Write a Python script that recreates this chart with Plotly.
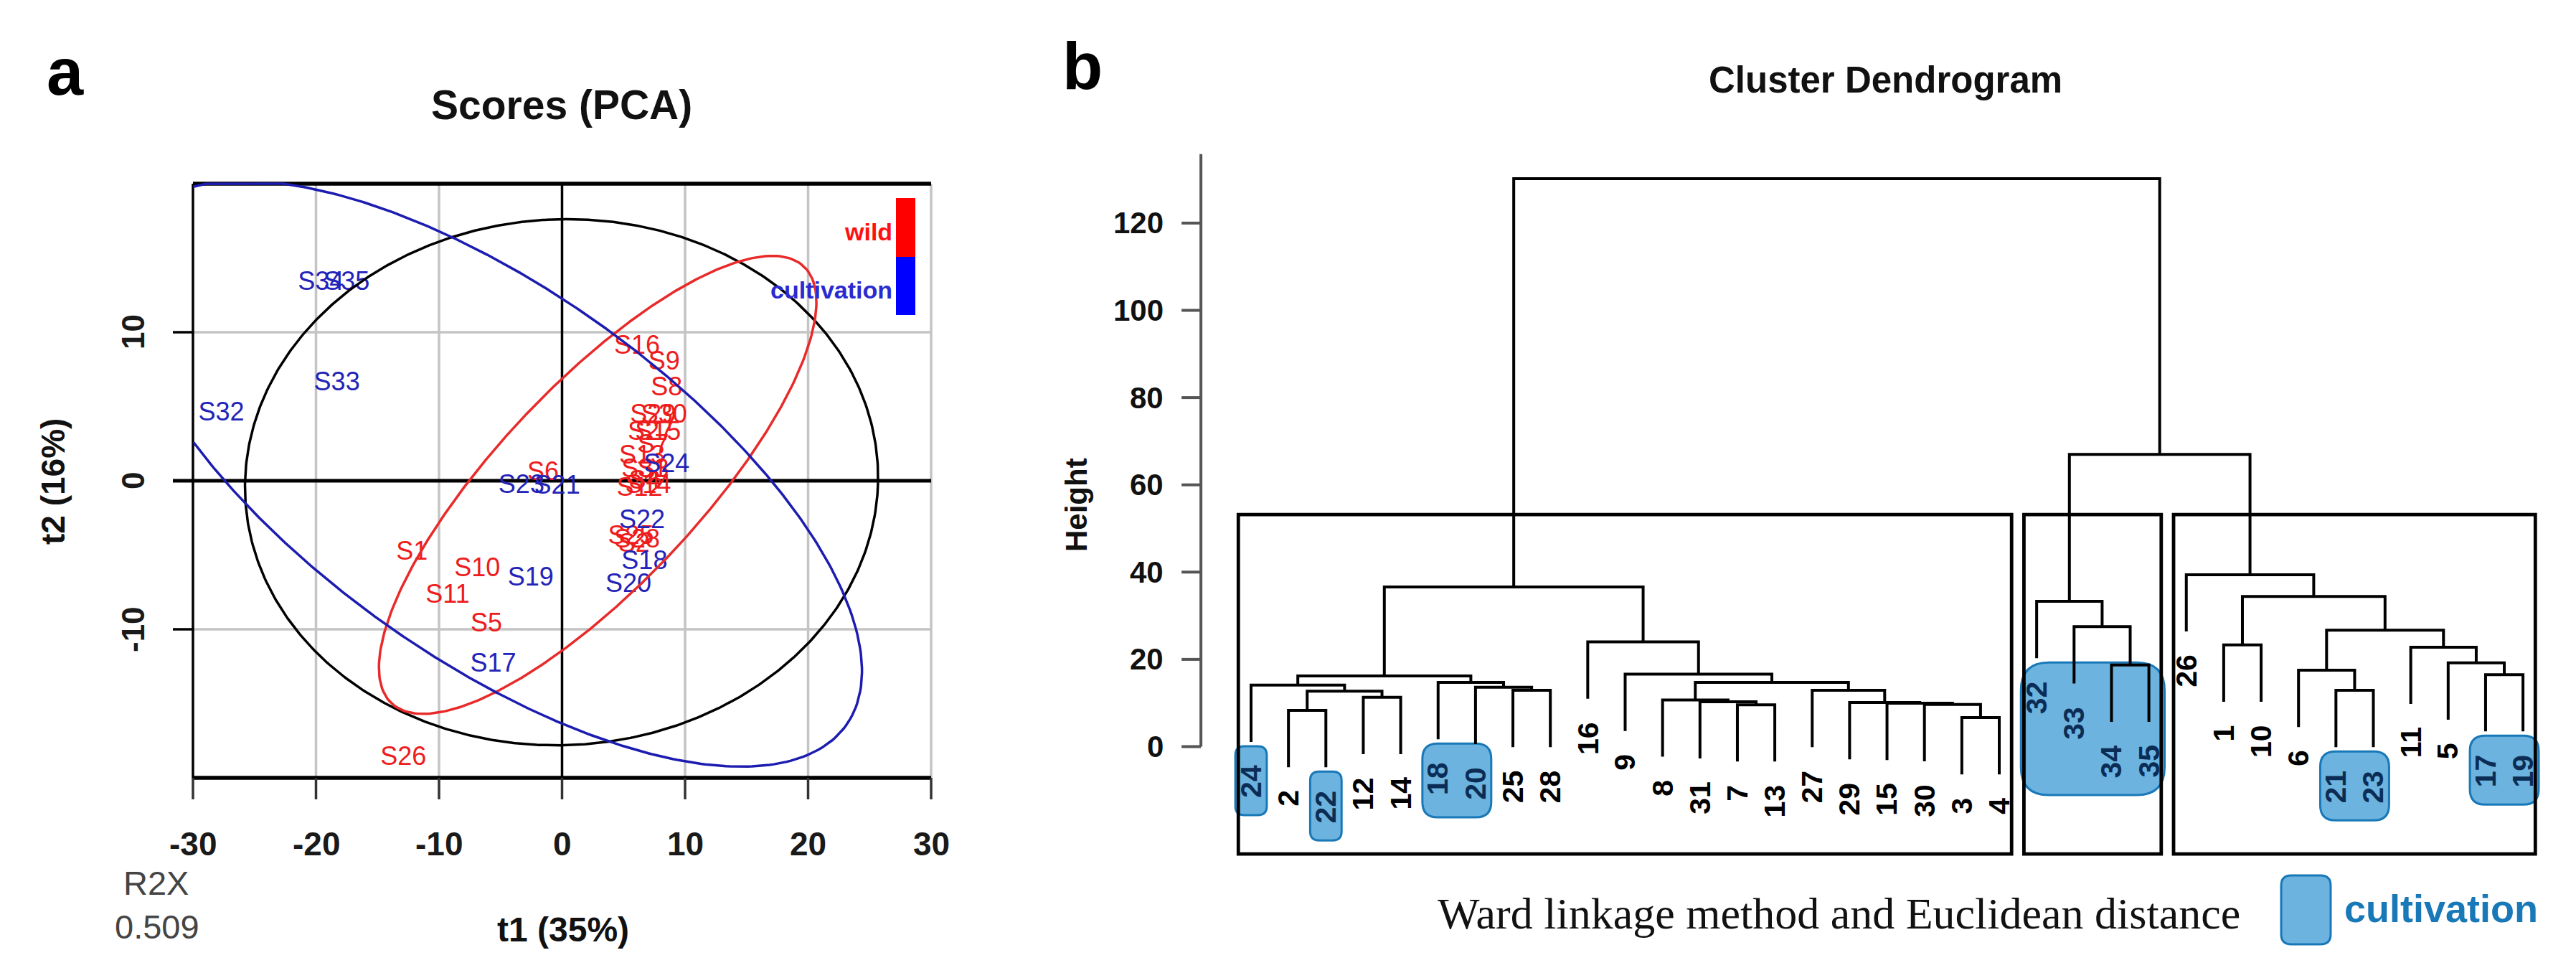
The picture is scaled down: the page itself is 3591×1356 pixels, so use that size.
import numpy as np
import plotly.graph_objects as go

W, H = 3591, 1356
SANS = "Liberation Sans, Arial, sans-serif"
SERIF = "Liberation Serif, Times New Roman, serif"

# ---------------- PCA scores (t1, t2) ----------------
wild_labels = ["S1", "S2", "S3", "S4", "S5", "S6", "S7", "S8", "S9", "S10", "S11", "S12",
               "S13", "S14", "S15", "S16", "S25", "S26", "S27", "S28", "S29", "S30", "S31"]
wild_t1 = [-12.2, 5.85, 7.4, 6.7, -6.15, -1.55, 7.4, 8.5, 8.3, -6.9, -9.3, 6.3,
           6.5, 7.0, 7.8, 6.1, 5.6, -12.9, 7.2, 6.1, 7.4, 8.3, 6.7]
wild_t2 = [-4.9, -4.35, 0.7, -0.1, -9.7, 0.5, 2.3, 6.2, 7.9, -6.0, -7.8, -0.6,
           1.6, -0.4, 3.2, 9.0, -3.8, -18.7, 3.2, -4.05, 4.35, 4.35, 0.7]
cult_labels = ["S17", "S18", "S19", "S20", "S21", "S22", "S23", "S24", "S32", "S33", "S34", "S35"]
cult_t1 = [-5.6, 6.7, -2.55, 5.4, -0.4, 6.5, -3.3, 8.5, -27.7, -18.3, -19.6, -17.5]
cult_t2 = [-12.4, -5.5, -6.6, -7.05, -0.45, -2.75, -0.4, 1.0, 4.5, 6.5, 13.3, 13.3]

# ellipse outlines
black_ell_t1 = [0, 0, -25.7, 25.8, -8.95, 22.9, -25.7, -14.2, 14.0, -20.1]
black_ell_t2 = [17.8, -17.7, 0, 0, 16.6, -7.9, -3.3, -15.1, 14.6, 10.2]
red_ell_t1 = [16.6, 20.4, 19.2, 14.3, 6.7, 0, -11.6, -14.6, -14.2, -12.1, -7.1, 0, 6.7, 11.9]
red_ell_t2 = [15.06, 12.7, 7.3, 0, -5.9, -11.8, -15.7, -13.6, -10.3, -4.9, 0, 6.7, 11.6, 14.0]
blue_ell_t1 = [-20.1, -14.2, -9.3, -4.6, 0, 6.7, 17.2, 22.9, 24.4, 21.3, 14.6, 4.1, -4.8,
               -14.2, -25.7, -27.0, -30.0]
blue_ell_t2 = [19.8, 18.1, 16.5, 14.5, 12.4, 8.1, 0, -7.9, -13.6, -18.0, -19.2, -17.5, -14.5,
               -9.9, -1.8, 0, 2.66]

pca_xticks = [-30, -20, -10, 0, 10, 20, 30]
pca_yticks = [-10, 0, 10]
pca_xgrid = [-20, -10, 10, 20, 30]
pca_ygrid = [-10, 10]
pca_box = [-30, 30, -20, 20]

# ---------------- Dendrogram (hclust-style merge table) ----------------
leaf_order = [24, 2, 22, 12, 14, 18, 20, 25, 28, 16, 9, 8, 31, 7, 13, 27, 29, 15, 30, 3, 4,
              32, 33, 34, 35, 26, 1, 10, 6, 21, 23, 11, 5, 17, 19]
merge_a = [-3, -7, -30, -15, -31, -29, -8, -2, -12, 8, -24, -25, -20, -18, 11, -27, 7, -9, -16, 15,
           -34, -33, -32, -21, -6, -17, -5, -11, 25, -1, 30, -26, 23, 20]
merge_b = [-4, -13, 1, 3, 2, 4, 5, -22, -14, 9, 10, -28, 12, 13, 14, 6, 16, 17, 18, 19,
           -35, 21, 22, -23, 24, -19, 26, 27, 28, -10, 29, 31, 32, 33]
merge_h = [6.66, 9.6, 9.65, 9.95, 10.3, 10.1, 10.7, 8.3, 11.3, 12.7, 14.1, 12.9, 13.6, 14.7, 16.2,
           12.9, 14.7, 16.6, 24.0, 36.6, 18.7, 27.5, 33.3, 12.9, 17.5, 16.5, 19.2, 22.8, 26.7,
           23.3, 34.4, 39.4, 67.0, 130.2]
cultivation = [17, 18, 19, 20, 21, 22, 23, 24, 32, 33, 34, 35]
dend_yticks = [0, 20, 40, 60, 80, 100, 120]
k_clusters = 3

# ---------------- layout geometry (pixels) ----------------
def P(px):
    return px / W

def Q(py):
    return 1 - py / H

# PCA panel pixel mapping
T1_0, T1_S = 775.5, 17.15
T2_0, T2_S = 662.0, 20.7
px_t1 = lambda v: T1_0 + T1_S * v
px_t2 = lambda v: T2_0 - T2_S * v
PCA_XR = [-30.5, 30.5]
PCA_YR = [-20.5, 20.5]

# Dendrogram pixel mapping
L1, LS = 1736.0, 52.15
H0, HS = 1032.5, 6.08
px_leaf = lambda i: L1 + (i - 1) * LS
px_h = lambda v: H0 - HS * v
D_XR = [-0.5, 36.5]
D_YR = [-26.0, 137.5]
D_YBOTTOM = -24.6
D_AXIS_X = -0.34
D_AXIS_TOP = 135.8

RED = "#ee1c1c"
BLUE = "#2323b8"
CULT_FILL = "#6cb3df"
CULT_LINE = "#1878b8"

fig = go.Figure()

# ---------- ellipses ----------
def conic_fit(xs, ys):
    x = np.asarray(xs, float)
    y = np.asarray(ys, float)
    D = np.column_stack([x * x, x * y, y * y, x, y])
    p, *_ = np.linalg.lstsq(D, np.ones_like(x), rcond=None)
    A, B, C, Dd, E = p
    cx, cy = np.linalg.solve(np.array([[2 * A, B], [B, 2 * C]]), [-Dd, -E])
    k = 1 - (A * cx * cx + B * cx * cy + C * cy * cy + Dd * cx + E * cy)
    t = np.linspace(0, 2 * np.pi, 721)
    c, s = np.cos(t), np.sin(t)
    r = np.sqrt(k / (A * c * c + B * c * s + C * s * s))
    return cx + r * c, cy + r * s

# point labels
fig.add_trace(go.Scatter(x=wild_t1, y=wild_t2, text=wild_labels, mode="text",
                         textfont=dict(family=SANS, size=36, color=RED),
                         xaxis="x", yaxis="y", hoverinfo="skip", showlegend=False))
fig.add_trace(go.Scatter(x=cult_t1, y=cult_t2, text=cult_labels, mode="text",
                         textfont=dict(family=SANS, size=36, color=BLUE),
                         xaxis="x", yaxis="y", hoverinfo="skip", showlegend=False))

for xs, ys, col in [(black_ell_t1, black_ell_t2, "#000000"),
                    (red_ell_t1, red_ell_t2, "#e82a2a"),
                    (blue_ell_t1, blue_ell_t2, "#1c1cb0")]:
    ex, ey = conic_fit(xs, ys)
    outside = (ex < pca_box[0]) | (ex > pca_box[1]) | (ey < pca_box[2])
    ey = np.minimum(ey, pca_box[3])
    ex = np.where(outside, np.nan, ex)
    ey = np.where(outside, np.nan, ey)
    fig.add_trace(go.Scatter(x=ex, y=ey, mode="lines", line=dict(color=col, width=3.5),
                             connectgaps=False,
                             xaxis="x", yaxis="y", hoverinfo="skip", showlegend=False))

# ---------- dendrogram geometry ----------
pos = {leaf: i + 1 for i, leaf in enumerate(leaf_order)}
hang = 0.1 * max(merge_h)
node_x = {}
seg_x, seg_y = [], []
leaf_end = {}
for m in range(len(merge_h)):
    h = merge_h[m]
    xs_, hs_ = [], []
    for ref in (merge_a[m], merge_b[m]):
        if ref < 0:
            xx = pos[-ref]
            hh = h - hang
            leaf_end[-ref] = hh
        else:
            xx = node_x[ref]
            hh = merge_h[ref - 1]
        xs_.append(xx)
        hs_.append(hh)
    node_x[m + 1] = (xs_[0] + xs_[1]) / 2
    seg_x += [xs_[0], xs_[0], xs_[1], xs_[1], None]
    seg_y += [hs_[0], h, h, hs_[1], None]

fig.add_trace(go.Scatter(x=seg_x, y=seg_y, mode="lines", line=dict(color="black", width=4),
                         xaxis="x2", yaxis="y2", hoverinfo="skip", showlegend=False))

shapes = []
annotations = []

# rect.hclust boxes
def leaves_of(ref):
    if ref < 0:
        return [-ref]
    return leaves_of(merge_a[ref - 1]) + leaves_of(merge_b[ref - 1])

clusters = [len(merge_h)]
while len(clusters) < k_clusters:
    top = max([c for c in clusters if c > 0], key=lambda c: merge_h[c - 1])
    i = clusters.index(top)
    clusters[i:i + 1] = [merge_a[top - 1], merge_b[top - 1]]
hs_sorted = sorted(merge_h, reverse=True)
cut_top = (hs_sorted[k_clusters - 2] + hs_sorted[k_clusters - 1]) / 2
for c in clusters:
    ps = [pos[l] for l in leaves_of(c)]
    shapes.append(dict(type="rect", xref="x2", yref="y2", x0=min(ps) - 0.34, x1=max(ps) + 0.33,
                       y0=D_YBOTTOM, y1=cut_top, line=dict(color="black", width=4.8),
                       fillcolor="rgba(0,0,0,0)", layer="above"))

# cultivation highlight boxes (runs of adjacent cultivation leaves)
def rounded_path(x0, x1, y0, y1, rx, ry):
    return (f"M {x0+rx},{y1} L {x1-rx},{y1} Q {x1},{y1} {x1},{y1-ry} "
            f"L {x1},{y0+ry} Q {x1},{y0} {x1-rx},{y0} L {x0+rx},{y0} "
            f"Q {x0},{y0} {x0},{y0+ry} L {x0},{y1-ry} Q {x0},{y1} {x0+rx},{y1} Z")

cpos = sorted(pos[c] for c in cultivation)
runs = []
for p_ in cpos:
    if runs and p_ == runs[-1][-1] + 1:
        runs[-1].append(p_)
    else:
        runs.append([p_])
for run in runs:
    ends = [leaf_end[leaf_order[p_ - 1]] for p_ in run]
    x0, x1 = min(run) - 0.42, max(run) + 0.42
    y1 = max(ends) - 6 / HS
    y0 = min(ends) - 102 / HS
    wpx = (x1 - x0) * LS
    r = 0.17 * wpx + 5
    shapes.append(dict(type="path", xref="x2", yref="y2",
                       path=rounded_path(x0, x1, y0, y1, r / LS, r / HS),
                       fillcolor=CULT_FILL, line=dict(color=CULT_LINE, width=3), layer="below"))

# leaf labels
cult_set = set(cultivation)
for leaf in leaf_order:
    annotations.append(dict(x=pos[leaf], y=leaf_end[leaf], xref="x2", yref="y2",
                            text=str(leaf), showarrow=False, textangle=-90,
                            xanchor="center", yanchor="top", yshift=-30,
                            font=dict(family=SANS, size=41, weight="bold",
                                      color="#0b2d55" if leaf in cult_set else "black")))

# dendrogram y axis
shapes.append(dict(type="line", xref="paper", yref="paper",
                   x0=P(px_leaf(D_AXIS_X)), x1=P(px_leaf(D_AXIS_X)),
                   y0=Q(px_h(0)), y1=Q(px_h(D_AXIS_TOP)), line=dict(color="#555555", width=4)))
for v in dend_yticks:
    shapes.append(dict(type="line", xref="paper", yref="paper",
                       x0=P(px_leaf(D_AXIS_X) - 27), x1=P(px_leaf(D_AXIS_X)),
                       y0=Q(px_h(v)), y1=Q(px_h(v)), line=dict(color="#555555", width=4)))
    annotations.append(dict(x=P(1616), y=Q(px_h(v)), xref="paper", yref="paper", text=str(v),
                            showarrow=False, xanchor="right", yanchor="middle",
                            font=dict(family=SANS, size=42, weight="bold", color="#111")))

annotations.append(dict(x=P(1492), y=Q(696), xref="paper", yref="paper", text="Height",
                        showarrow=False, textangle=-90, xanchor="center", yanchor="middle",
                        font=dict(family=SANS, size=42, weight="bold", color="#111")))
annotations.append(dict(x=P(2620), y=Q(104), xref="paper", yref="paper", text="Cluster Dendrogram",
                        showarrow=False, xanchor="center", yanchor="middle",
                        font=dict(family=SANS, size=51, weight="bold", color="#111")))
annotations.append(dict(x=P(1501), y=Q(84), xref="paper", yref="paper", text="b",
                        showarrow=False, xanchor="center", yanchor="middle",
                        font=dict(family=SANS, size=92, weight="bold", color="black")))
annotations.append(dict(x=P(2555), y=Q(1265), xref="paper", yref="paper",
                        text="Ward linkage method and Euclidean distance",
                        showarrow=False, xanchor="center", yanchor="middle",
                        font=dict(family=SERIF, size=62, color="#111")))
# legend for cultivation boxes
lx0, lx1, ly0, ly1, lr = 3172, 3241, 1212, 1308, 14
shapes.append(dict(type="path", xref="paper", yref="paper",
                   path=rounded_path(P(lx0), P(lx1), Q(ly1), Q(ly0), lr / W, lr / H),
                   fillcolor=CULT_FILL, line=dict(color=CULT_LINE, width=3)))
annotations.append(dict(x=P(3258), y=Q(1258), xref="paper", yref="paper", text="cultivation",
                        showarrow=False, xanchor="left", yanchor="middle",
                        font=dict(family=SANS, size=54, weight="bold", color=CULT_LINE)))

# ---------- PCA frame, grid, ticks ----------
bx0, bx1, by0, by1 = pca_box
for v in pca_xgrid:
    shapes.append(dict(type="line", xref="x", yref="y", x0=v, x1=v, y0=by0, y1=by1,
                       line=dict(color="#c4c4c4", width=3.5), layer="below"))
for v in pca_ygrid:
    shapes.append(dict(type="line", xref="x", yref="y", x0=bx0, x1=bx1, y0=v, y1=v,
                       line=dict(color="#c4c4c4", width=3.5), layer="below"))
shapes.append(dict(type="line", xref="x", yref="y", x0=0, x1=0, y0=by0, y1=by1,
                   line=dict(color="black", width=3.5), layer="below"))
shapes.append(dict(type="line", xref="x", yref="y", x0=bx0, x1=bx1, y0=0, y1=0,
                   line=dict(color="black", width=5), layer="below"))
for v in (by0, by1):
    shapes.append(dict(type="line", xref="x", yref="y", x0=bx0, x1=bx1, y0=v, y1=v,
                       line=dict(color="black", width=5.5), layer="below"))
shapes.append(dict(type="line", xref="x", yref="y", x0=bx0, x1=bx0, y0=by0, y1=by1,
                   line=dict(color="black", width=3.5), layer="below"))
for v in pca_xticks:
    shapes.append(dict(type="line", xref="paper", yref="paper", x0=P(px_t1(v)), x1=P(px_t1(v)),
                       y0=Q(px_t2(by0)), y1=Q(px_t2(by0) + 30), line=dict(color="#333", width=3.5)))
    annotations.append(dict(x=P(px_t1(v)), y=Q(1168), xref="paper", yref="paper", text=str(v),
                            showarrow=False, xanchor="center", yanchor="middle",
                            font=dict(family=SANS, size=46, weight="bold", color="#1a1a1a")))
for v in pca_yticks:
    shapes.append(dict(type="line", xref="paper", yref="paper", x0=P(px_t1(bx0) - 28),
                       x1=P(px_t1(bx0)), y0=Q(px_t2(v)), y1=Q(px_t2(v)),
                       line=dict(color="black", width=3.5 if v else 5)))
    annotations.append(dict(x=P(177), y=Q(px_t2(v)), xref="paper", yref="paper", text=str(v),
                            showarrow=False, textangle=-90, xanchor="center", yanchor="middle",
                            font=dict(family=SANS, size=44, weight="bold", color="#1a1a1a")))

# PCA legend
shapes.append(dict(type="rect", xref="paper", yref="paper", x0=P(1241), x1=P(1268),
                   y0=Q(350), y1=Q(268), fillcolor="#ff0000", line=dict(width=0)))
shapes.append(dict(type="rect", xref="paper", yref="paper", x0=P(1241), x1=P(1268),
                   y0=Q(431), y1=Q(350), fillcolor="#0000ff", line=dict(width=0)))
annotations.append(dict(x=P(1238), y=Q(315), xref="paper", yref="paper", text="wild",
                        showarrow=False, xanchor="right", yanchor="middle",
                        font=dict(family=SANS, size=34, weight="bold", color="#ff1010")))
annotations.append(dict(x=P(1238), y=Q(396), xref="paper", yref="paper", text="cultivation",
                        showarrow=False, xanchor="right", yanchor="middle",
                        font=dict(family=SANS, size=34, weight="bold", color="#2a2ad0")))

annotations += [
    dict(x=P(83), y=Q(92), xref="paper", yref="paper", text="a", showarrow=False,
         xanchor="center", yanchor="middle", font=dict(family=SANS, size=92, weight="bold", color="black")),
    dict(x=P(775), y=Q(138), xref="paper", yref="paper", text="Scores (PCA)", showarrow=False,
         xanchor="center", yanchor="middle", font=dict(family=SANS, size=57, weight="bold", color="#111")),
    dict(x=P(66), y=Q(663), xref="paper", yref="paper", text="t2 (16%)", showarrow=False,
         textangle=-90, xanchor="center", yanchor="middle",
         font=dict(family=SANS, size=46, weight="bold", color="#111")),
    dict(x=P(777), y=Q(1287), xref="paper", yref="paper", text="t1 (35%)", showarrow=False,
         xanchor="center", yanchor="middle", font=dict(family=SANS, size=48, weight="bold", color="#111")),
    dict(x=P(209), y=Q(1222), xref="paper", yref="paper", text="R2X", showarrow=False,
         xanchor="center", yanchor="middle", font=dict(family=SANS, size=47, color="#444")),
    dict(x=P(211), y=Q(1283), xref="paper", yref="paper", text="0.509", showarrow=False,
         xanchor="center", yanchor="middle", font=dict(family=SANS, size=47, color="#444")),
]

ax_common = dict(showgrid=False, zeroline=False, showticklabels=False, ticks="", showline=False)
fig.update_layout(
    width=W, height=H, margin=dict(l=0, r=0, t=0, b=0),
    paper_bgcolor="white", plot_bgcolor="white", showlegend=False,
    xaxis=dict(domain=[P(px_t1(PCA_XR[0])), P(px_t1(PCA_XR[1]))], range=PCA_XR, anchor="y", **ax_common),
    yaxis=dict(domain=[Q(px_t2(PCA_YR[0])), Q(px_t2(PCA_YR[1]))], range=PCA_YR, anchor="x", **ax_common),
    xaxis2=dict(domain=[P(px_leaf(D_XR[0])), P(px_leaf(D_XR[1]))], range=D_XR, anchor="y2", **ax_common),
    yaxis2=dict(domain=[Q(px_h(D_YR[0])), Q(px_h(D_YR[1]))], range=D_YR, anchor="x2", **ax_common),
    shapes=shapes, annotations=annotations,
)

fig.write_html("out.html")
